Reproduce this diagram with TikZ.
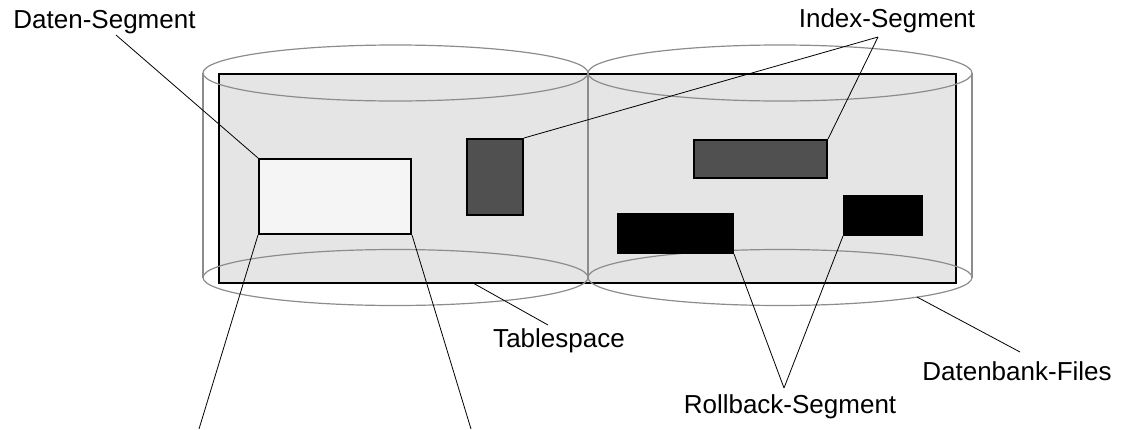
\documentclass[tikz,border=0pt]{standalone}
\usepackage{fontspec}
\setmainfont{Liberation Sans}
\usetikzlibrary{
  positioning, % for relative placement
}
\definecolor{spacegray}{HTML}{E5E5E5}
\definecolor{datafill}{HTML}{F5F5F5}
\definecolor{indexfill}{HTML}{505050}
\definecolor{filegray}{HTML}{8C8C8C}
\tikzset{
  space/.style={ % style for the tablespace
    rectangle,draw,line width=1pt, % drawn as a thick rectangle
    fill=spacegray, % light gray inside
    inner sep=0pt,
  },
  seg/.style={ % style for the segments
    rectangle,draw,line width=1pt,
    inner sep=0pt, % no padding, the size is set from outside
  },
  dataseg/.style={seg,fill=datafill}, % data segment
  indexseg/.style={seg,fill=indexfill}, % index segments
  rollseg/.style={seg,fill=black}, % rollback segments
  file/.style={ % style for the database file outlines
    draw=filegray,line width=0.6pt,
  },
  lbl/.style={ % style for the labels
    anchor=base,inner sep=0pt,
    font=\fontsize{13}{15}\selectfont,
  },
  pointer/.style={ % thin lines from the labels
    draw,line width=0.4pt,
  },
}

\begin{document}
\begin{tikzpicture}[x=0.5pt,y=-0.5pt]
	\useasboundingbox (0,0) rectangle (1124,429);

	% tablespace
	\node[space,minimum width=368.5pt,minimum height=104.5pt] (ts) at (587.5,178.5) {};

	% database files
	\draw[file] (395.5,73) ellipse [x radius=192.5,y radius=28];
	\draw[file] (395.5,277.5) ellipse [x radius=192.5,y radius=28];
	\draw[file] (780,73) ellipse [x radius=192,y radius=28];
	\draw[file] (780,277.5) ellipse [x radius=192,y radius=28];
	\draw[file] (203,73) -- (203,277.5);
	\draw[file] (588,73) -- (588,277.5);
	\draw[file] (972,73) -- (972,277.5);

	% segments
	\node[dataseg,minimum width=76pt,minimum height=37.5pt] (ds) at (335,196.5) {};
	\node[indexseg,minimum width=28pt,minimum height=38pt] (isl) at (495,177) {};
	\node[indexseg,minimum width=66.5pt,minimum height=19pt] (isr) at (760.5,159) {};
	\node[rollseg,minimum width=57.5pt,minimum height=19.5pt] (rsl) at (675.5,233.5) {};
	\node[rollseg,minimum width=39pt,minimum height=19.5pt] (rsr) at (883,215.5) {};

	% labels
	\node[lbl] (dlabel) at (104.5,28) {Daten-Segment};
	\node[lbl] (ilabel) at (887,27) {Index-Segment};
	\node[lbl] (tlabel) at (559,347) {Tablespace};
	\node[lbl] (flabel) at (1017,380) {Datenbank-Files};
	\node[lbl] (rlabel) at (790,413) {Rollback-Segment};

	\coordinate (dtip) at (116,35);
	\coordinate (itip) at (878,37);
	\coordinate (ttip) at (548,325);
	\coordinate (thit) at (473,283);
	\coordinate (ftip) at (1020,352);
	\coordinate (fhit) at (917,297);
	\coordinate (rtip) at (784,388);
	\coordinate (dleft) at (199,429);
	\coordinate (dright) at (471,429);

	\path[pointer] (dtip) -- (ds.north west)
		(itip) -- (isl.north east)
		(itip) -- (isr.north east)
		(ttip) -- (thit)
		(ftip) -- (fhit)
		(rtip) -- (rsl.south east)
		(rtip) -- (rsr.south west)
		(ds.south west) -- (dleft)
		(ds.south east) -- (dright);
\end{tikzpicture}
\end{document}
